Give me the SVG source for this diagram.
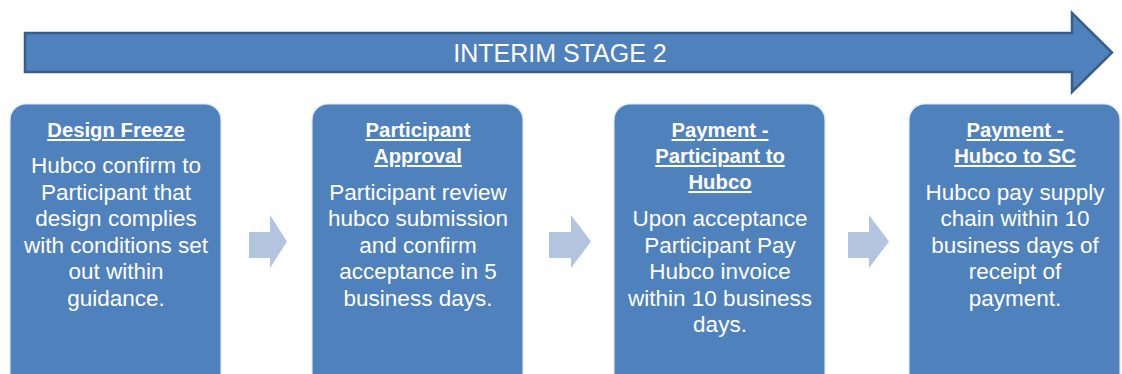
<svg xmlns="http://www.w3.org/2000/svg" width="1122" height="374" viewBox="0 0 1122 374">
  <style>
    .stage { fill: #4f81bd; stroke: #385d8a; stroke-width: 2.5; stroke-linejoin: miter; }
    .stage-label { font-family: "Liberation Sans", Arial, sans-serif; font-size: 25px; fill: #ffffff; text-anchor: middle; }
    .box { fill: #4f81bd; stroke: #dfe7f2; stroke-width: 1.2; }
    .head { font-family: "Liberation Sans", Arial, sans-serif; font-size: 20.3px; font-weight: bold; fill: #ffffff; text-anchor: middle; text-decoration: underline; }
    .body { font-family: "Liberation Sans", Arial, sans-serif; font-size: 22.5px; fill: #ffffff; text-anchor: middle; }
    .step { fill: #b3c4de; }
  </style>

  <!-- stage banner arrow -->
  <g id="stage-banner">
    <path class="stage" d="M25,33 H1072 V13 L1112,52.5 L1072,92 V72 H25 Z"/>
    <text class="stage-label" x="560" y="62">INTERIM STAGE 2</text>
  </g>

  <!-- step 1 -->
  <g id="design-freeze">
    <rect class="box" x="10" y="104" width="211" height="290" rx="16"/>
    <text class="head" x="116" y="137">Design Freeze</text>
    <text class="body" x="116" y="173">Hubco confirm to</text>
    <text class="body" x="116" y="199.5">Participant that</text>
    <text class="body" x="116" y="226">design complies</text>
    <text class="body" x="116" y="252.5">with conditions set</text>
    <text class="body" x="116" y="279">out within</text>
    <text class="body" x="116" y="305.5">guidance.</text>
  </g>

  <!-- step 2 -->
  <g id="participant-approval">
    <rect class="box" x="312" y="104" width="211" height="290" rx="16"/>
    <text class="head" x="418" y="137">Participant</text>
    <text class="head" x="418" y="163">Approval</text>
    <text class="body" x="418" y="199.5">Participant review</text>
    <text class="body" x="418" y="226">hubco submission</text>
    <text class="body" x="418" y="252.5">and confirm</text>
    <text class="body" x="418" y="279">acceptance in 5</text>
    <text class="body" x="418" y="305.5">business days.</text>
  </g>

  <!-- step 3 -->
  <g id="payment-participant-to-hubco">
    <rect class="box" x="614" y="104" width="211" height="290" rx="16"/>
    <text class="head" x="720" y="137">Payment -</text>
    <text class="head" x="720" y="163">Participant to</text>
    <text class="head" x="720" y="189">Hubco</text>
    <text class="body" x="720" y="226">Upon acceptance</text>
    <text class="body" x="720" y="252.5">Participant Pay</text>
    <text class="body" x="720" y="279">Hubco invoice</text>
    <text class="body" x="720" y="305.5">within 10 business</text>
    <text class="body" x="720" y="332">days.</text>
  </g>

  <!-- step 4 -->
  <g id="payment-hubco-to-sc">
    <rect class="box" x="909" y="104" width="211" height="290" rx="16"/>
    <text class="head" x="1015" y="137">Payment -</text>
    <text class="head" x="1015" y="163">Hubco to SC</text>
    <text class="body" x="1015" y="199.5">Hubco pay supply</text>
    <text class="body" x="1015" y="226">chain within 10</text>
    <text class="body" x="1015" y="252.5">business days of</text>
    <text class="body" x="1015" y="279">receipt of</text>
    <text class="body" x="1015" y="305.5">payment.</text>
  </g>

  <!-- step connectors -->
  <g id="connectors">
    <path class="step" d="M249,232 H270 V215 L287,241.5 L270,268 V258 H249 Z"/>
    <path class="step" d="M549,232 H571 V215 L591,241.5 L571,268 V258 H549 Z"/>
    <path class="step" d="M848,232 H869 V215 L889,241.5 L869,268 V258 H848 Z"/>
  </g>
</svg>
